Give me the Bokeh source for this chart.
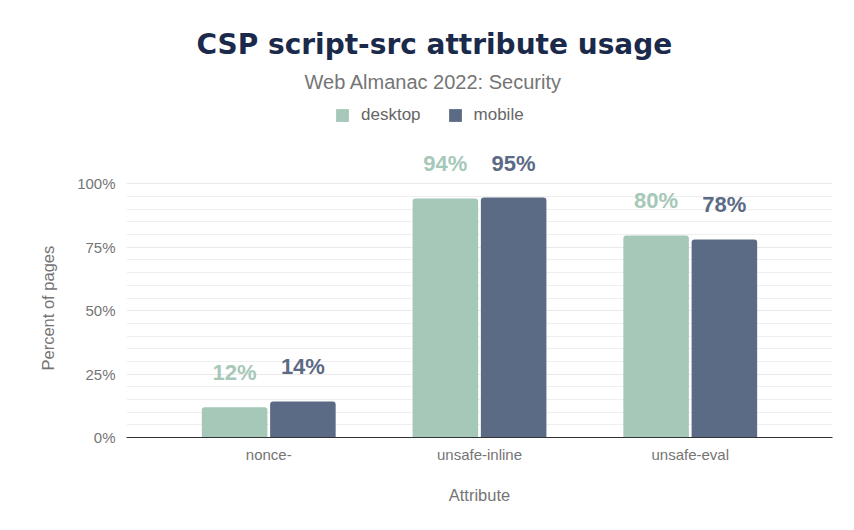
from bokeh.plotting import figure
from bokeh.models import (ColumnDataSource, FactorRange, Range1d, FixedTicker, Legend,
                          LegendItem, LabelSet, Title, PrintfTickFormatter)
from bokeh.core.properties import value
from bokeh.transform import dodge
from bokeh.embed import file_html
from bokeh.resources import INLINE

categories = ["nonce-", "unsafe-inline", "unsafe-eval"]
desktop = [11.95, 94.3, 79.7]
mobile = [14.2, 94.6, 78.1]
y_ticks = [0, 25, 50, 75, 100]
y_minor_ticks = [5, 10, 15, 20, 30, 35, 40, 45, 55, 60, 65, 70, 80, 85, 90, 95]

DESKTOP_COLOR = "#a6c8b8"
MOBILE_COLOR = "#5c6b85"
GRAY = "#757575"

source = ColumnDataSource(dict(
    cat=categories,
    desktop=desktop,
    mobile=mobile,
    desktop_label=[f"{round(v)}%" for v in desktop],
    mobile_label=[f"{round(v)}%" for v in mobile],
))

x_range = FactorRange(factors=categories, range_padding=0.175, range_padding_units="absolute")
p = figure(x_range=x_range, y_range=Range1d(0, 132.9), width=854, height=530,
           output_backend="svg", toolbar_location=None,
           min_border_left=126, min_border_right=22, min_border_bottom=93, min_border_top=100)
p.outline_line_color = None
p.background_fill_color = "white"
p.border_fill_color = "white"

bw = 0.311
off = 0.162
r_d = p.vbar(x=dodge("cat", -off, range=p.x_range), top="desktop", width=bw, source=source,
             fill_color=DESKTOP_COLOR, line_color=None, border_radius=(3, 3, 0, 0))
r_m = p.vbar(x=dodge("cat", off, range=p.x_range), top="mobile", width=bw, source=source,
             fill_color=MOBILE_COLOR, line_color=None, border_radius=(3, 3, 0, 0))

for field, col, o in (("desktop", DESKTOP_COLOR, -off), ("mobile", MOBILE_COLOR, off)):
    ls = LabelSet(x=dodge("cat", o, range=p.x_range), y=field, text=field + "_label", source=source,
                  y_offset=27, text_align="center", text_baseline="alphabetic",
                  text_font=value("Liberation Sans"), text_font_style="bold",
                  text_font_size="22px", text_color=col)
    p.add_layout(ls)

# axes
p.yaxis.ticker = FixedTicker(ticks=y_ticks)
p.yaxis.formatter = PrintfTickFormatter(format="%d%%")
p.yaxis.axis_line_color = None
p.yaxis.major_tick_line_color = None
p.yaxis.minor_tick_line_color = None
p.yaxis.major_label_standoff = 5

p.xaxis.axis_line_color = "#333333"
p.xaxis.axis_line_width = 1.2
p.xaxis.major_tick_line_color = None
p.xaxis.minor_tick_line_color = None
p.xaxis.major_label_standoff = 2
p.xaxis.axis_label = "Attribute"
p.xaxis.axis_label_standoff = 20

for ax in (p.xaxis, p.yaxis):
    ax.major_label_text_font = "Liberation Sans"
    ax.major_label_text_font_size = "15px"
    ax.major_label_text_color = GRAY
    ax.axis_label_text_font = "Liberation Sans"
    ax.axis_label_text_font_size = "16.5px"
    ax.axis_label_text_font_style = "normal"
    ax.axis_label_text_color = GRAY

# y-axis title, centred on the 0-100% span
ytitle = Title(text="Percent of pages", align="left", offset=67,
               text_font="Liberation Sans", text_font_style="normal", text_font_size="16.5px",
               text_color=GRAY, standoff=35)
p.add_layout(ytitle, "left")

p.xgrid.grid_line_color = None
p.ygrid.ticker = FixedTicker(ticks=y_ticks, minor_ticks=y_minor_ticks)
p.ygrid.grid_line_color = "#e9e9e9"
p.ygrid.minor_grid_line_color = "#efefef"

legend = Legend(items=[LegendItem(label="desktop", renderers=[r_d]),
                       LegendItem(label="mobile", renderers=[r_m])],
                orientation="horizontal", location=(208, 312),
                border_line_color=None, background_fill_alpha=0,
                label_text_font="Liberation Sans", label_text_font_size="17px",
                label_text_color="#666666",
                glyph_width=16, glyph_height=16, spacing=26, label_standoff=11,
                padding=2, margin=0)
p.add_layout(legend)

sub = Title(text="Web Almanac 2022: Security", align="left", offset=178,
            text_font="Liberation Sans", text_font_style="normal", text_font_size="20px",
            text_color=GRAY, standoff=16)
p.add_layout(sub, "above")

p.title.text = "CSP script-src attribute usage"
p.title.align = "left"
p.title.offset = 70
p.title.text_font = "DejaVu Sans"
p.title.text_font_style = "bold"
p.title.text_font_size = "28px"
p.title.text_color = "#1b2a4a"
p.title.standoff = 0

open("out.html", "w").write(file_html(p, INLINE))
